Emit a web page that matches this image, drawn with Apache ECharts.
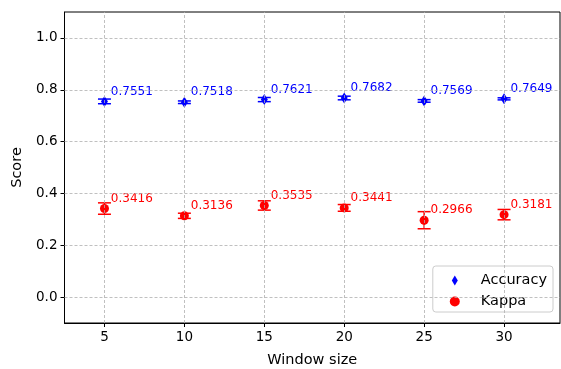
<!DOCTYPE html>
<html>
<head>
<meta charset="utf-8">
<script src="https://cdn.jsdelivr.net/npm/echarts@6/dist/echarts.min.js"></script>
<style>
  html, body { margin: 0; padding: 0; background: #fff; }
  #chart { width: 561px; height: 369px; }
</style>
</head>
<body>
<div id="chart"></div>
<script>
// Window sizes and mean scores with their spread
const windowSizes = [5, 10, 15, 20, 25, 30];
const accuracy    = [0.7551, 0.7518, 0.7621, 0.7682, 0.7569, 0.7649];
const accuracyErr = [0.009, 0.005, 0.008, 0.007, 0.005, 0.004];
const kappa       = [0.3416, 0.3136, 0.3535, 0.3441, 0.2966, 0.3181];
const kappaErr    = [0.022, 0.010, 0.018, 0.013, 0.033, 0.020];
const yTicks      = [0.0, 0.2, 0.4, 0.6, 0.8, 1.0];

const FONT = 'DejaVu Sans';
const BLUE = '#0000ff';
const RED = '#ff0000';
// thin diamond for the legend key, taller than wide
const THIN_DIAMOND = 'path://M0,-6 L3.6,0 L0,6 L-3.6,0 Z';

const chart = echarts.init(document.getElementById('chart'), null, { renderer: 'canvas' });

function pairs(xs, ys) { return xs.map((x, i) => [x, ys[i]]); }

// error bars with caps plus the value annotation beside each point
function errorSeries(name, values, errs, color) {
  return {
    type: 'custom',
    name: name + ' err',
    z: 3,
    silent: true,
    data: windowSizes.map((x, i) => [x, values[i], errs[i]]),
    renderItem: function (params, api) {
      const x = api.value(0), y = api.value(1), e = api.value(2);
      const top = api.coord([x, y + e]);
      const bot = api.coord([x, y - e]);
      const cap = 6.5;
      const st = { stroke: color, lineWidth: 1.5 };
      const label = api.coord([x + 0.4, y + 0.015]);
      return {
        type: 'group',
        children: [
          { type: 'line', shape: { x1: top[0], y1: top[1], x2: bot[0], y2: bot[1] }, style: st },
          { type: 'line', shape: { x1: top[0] - cap, y1: top[1], x2: top[0] + cap, y2: top[1] }, style: st },
          { type: 'line', shape: { x1: bot[0] - cap, y1: bot[1], x2: bot[0] + cap, y2: bot[1] }, style: st },
          { type: 'text', x: label[0], y: label[1],
            style: { text: y.toFixed(4), fill: color, font: '12px "' + FONT + '"',
                     textAlign: 'left', textVerticalAlign: 'bottom' } }
        ]
      };
    }
  };
}

const gridLineStyle = { color: '#b0b0b0', type: [3, 2], width: 0.8 };

const option = {
  animation: false,
  backgroundColor: '#fff',
  textStyle: { fontFamily: FONT },
  grid: {
    left: 64.5, right: 1, top: 12, bottom: 46,
    outerBoundsMode: 'none',
    containLabel: false,
    show: true, borderColor: '#000', borderWidth: 1, backgroundColor: 'transparent'
  },
  legend: {
    orient: 'vertical',
    right: 8, bottom: 57,
    padding: [7, 6, 3, 17],
    itemGap: 6,
    itemWidth: 10, itemHeight: 10,
    borderColor: '#cccccc', borderWidth: 1, borderRadius: 3,
    backgroundColor: 'rgba(255,255,255,0.8)',
    textStyle: { fontFamily: FONT, fontSize: 14.5, color: '#000', padding: [0, 0, 0, 16] },
    data: [
      { name: 'Accuracy', icon: THIN_DIAMOND },
      { name: 'Kappa', icon: 'circle' }
    ]
  },
  xAxis: {
    type: 'value',
    min: 2.5, max: 33.5,
    name: 'Window size',
    nameLocation: 'middle',
    nameGap: 30,
    nameTextStyle: { fontFamily: FONT, fontSize: 14.5, color: '#000' },
    axisLine: { onZero: false, lineStyle: { color: '#000', width: 1 } },
    axisTick: { customValues: windowSizes, length: 4, lineStyle: { color: '#000' } },
    axisLabel: { customValues: windowSizes, fontFamily: FONT, fontSize: 13.5, color: '#000', margin: 7 },
    splitLine: { show: false }
  },
  yAxis: {
    type: 'value',
    min: -0.1, max: 1.1,
    name: 'Score',
    nameLocation: 'middle',
    nameGap: 37,
    nameTextStyle: { fontFamily: FONT, fontSize: 14.5, color: '#000' },
    axisLine: { show: true, onZero: false, lineStyle: { color: '#000', width: 1 } },
    axisTick: { show: true, customValues: yTicks, length: 4, lineStyle: { color: '#000' } },
    axisLabel: { customValues: yTicks, fontFamily: FONT, fontSize: 13.5, color: '#000', margin: 7,
                 formatter: v => v.toFixed(1) },
    splitLine: { show: false }
  },
  series: [
    {
      // dashed grid lines at every tick
      type: 'line',
      name: 'grid',
      data: [],
      silent: true,
      z: 1,
      markLine: {
        silent: true,
        symbol: 'none',
        label: { show: false },
        lineStyle: gridLineStyle,
        data: windowSizes.map(x => ({ xAxis: x })).concat(yTicks.map(y => ({ yAxis: y })))
      }
    },
    errorSeries('Accuracy', accuracy, accuracyErr, BLUE),
    errorSeries('Kappa', kappa, kappaErr, RED),
    {
      type: 'scatter',
      name: 'Accuracy',
      z: 4,
      symbol: 'diamond',
      symbolSize: [7, 11],
      itemStyle: { color: BLUE, opacity: 1 },
      data: pairs(windowSizes, accuracy)
    },
    {
      type: 'scatter',
      name: 'Kappa',
      z: 4,
      symbol: 'circle',
      symbolSize: 9,
      itemStyle: { color: RED, opacity: 1 },
      data: pairs(windowSizes, kappa)
    }
  ]
};

chart.setOption(option);
</script>
</body>
</html>
